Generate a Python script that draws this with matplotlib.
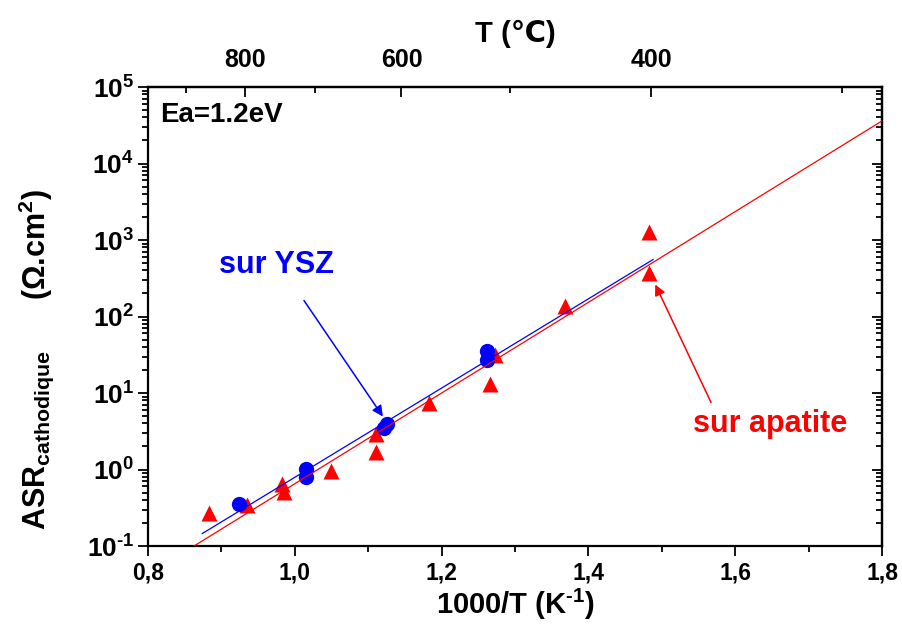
import numpy as np
import matplotlib.pyplot as plt
from matplotlib.ticker import FixedLocator, LogLocator, NullFormatter, FuncFormatter, MultipleLocator

plt.rcParams['font.family'] = ['Liberation Sans', 'DejaVu Sans']
plt.rcParams['font.weight'] = 'bold'
plt.rcParams['mathtext.fontset'] = 'custom'
plt.rcParams['mathtext.rm'] = 'Liberation Sans:bold'
plt.rcParams['mathtext.bf'] = 'Liberation Sans:bold'
plt.rcParams['mathtext.it'] = 'Liberation Sans:bold:italic'

# ASR cathodique sur YSZ (cercles bleus)
ysz_x = [0.924, 1.015, 1.015, 1.122, 1.126, 1.262, 1.262]
ysz_asr = [0.35, 1.03, 0.79, 3.5, 3.9, 35, 27]

# ASR cathodique sur apatite (triangles rouges)
apa_x = [0.883, 0.935, 0.983, 0.985, 1.049, 1.110, 1.111, 1.183, 1.266, 1.273, 1.368, 1.483, 1.483]
apa_asr = [0.274, 0.339, 0.656, 0.515, 0.97, 1.67, 2.87, 7.36, 13.3, 31, 138, 1273, 365]

# droites d'Arrhenius : log10(ASR) = pente * x + origine
ysz_fit = (5.834, -5.936)
ysz_fit_x = [0.874, 1.488]
apa_fit = (5.93, -6.116)
apa_fit_x = [0.8627, 1.8]

temps_major = [800, 600, 400]
temps_minor = [900, 700, 500, 300]
x_ticks = [0.8, 1.0, 1.2, 1.4, 1.6, 1.8]

HY = '\u2010'  # trait d'union court pour les exposants


def fmt_pow(v, p):
    e = int(round(np.log10(v)))
    s = str(e).replace('-', HY)
    return r'$\mathbf{10^{%s}}$' % s


fig = plt.figure(figsize=(9.02, 6.30), dpi=100)
ax = fig.add_axes([0.164, 0.1333, 0.814, 0.7286])

ax.plot(apa_x, apa_asr, '^', color='#ff0000', ms=11.5, mec='none', zorder=2)
ax.plot(ysz_x, ysz_asr, 'o', color='#0000ff', ms=11, mec='none', zorder=3)

for fx, (a, b), c in [(ysz_fit_x, ysz_fit, '#0000ff'), (apa_fit_x, apa_fit, '#ff0000')]:
    fx = np.array(fx)
    ax.plot(fx, 10 ** (a * fx + b), '-', color=c, lw=0.9, zorder=4)

ax.set_yscale('log')
ax.set_xlim(0.8, 1.8)
ax.set_ylim(0.1, 1e5)

ax.xaxis.set_major_locator(FixedLocator(x_ticks))
ax.xaxis.set_minor_locator(MultipleLocator(0.1))
ax.xaxis.set_major_formatter(FuncFormatter(lambda v, p: f"{v:.1f}".replace('.', ',')))
ax.yaxis.set_major_locator(LogLocator(base=10, numticks=10))
ax.yaxis.set_minor_locator(LogLocator(base=10, subs=np.arange(2, 10), numticks=20))
ax.yaxis.set_minor_formatter(NullFormatter())
ax.yaxis.set_major_formatter(FuncFormatter(fmt_pow))

ax.tick_params(which='both', direction='out', top=False, right=False, width=1.3)
ax.tick_params(which='major', length=7, labelsize=16.5, pad=4)
ax.tick_params(axis='y', which='major', labelsize=19, pad=3)
ax.tick_params(which='minor', length=4)
for s in ax.spines.values():
    s.set_linewidth(1.6)

sec_y = ax.secondary_yaxis('right')
sec_y.yaxis.set_major_locator(LogLocator(base=10, numticks=10))
sec_y.yaxis.set_minor_locator(LogLocator(base=10, subs=np.arange(2, 10), numticks=20))
sec_y.yaxis.set_major_formatter(NullFormatter())
sec_y.yaxis.set_minor_formatter(NullFormatter())
sec_y.tick_params(which='both', direction='in', width=1.3)
sec_y.tick_params(which='major', length=7)
sec_y.tick_params(which='minor', length=4)
sec_y.spines['right'].set_linewidth(1.6)

sec_x = ax.secondary_xaxis('top')
sec_x.set_xticks([1000 / (t + 273.15) for t in temps_major], labels=[str(t) for t in temps_major])
sec_x.xaxis.set_minor_locator(FixedLocator([1000 / (t + 273.15) for t in temps_minor]))
sec_x.tick_params(which='both', direction='in', width=1.3)
sec_x.tick_params(which='major', length=7, labelsize=18, pad=11)
sec_x.tick_params(which='minor', length=4)
sec_x.spines['top'].set_linewidth(1.6)
sec_x.set_xlabel('T (℃)', fontsize=21, fontweight='bold', labelpad=4)

ax.set_xlabel(r'1000/T (K$^{\mathbf{' + HY + r'1}}$)', fontsize=21, fontweight='bold', labelpad=2)
ax.set_ylabel(r'ASR$_{\mathbf{cathodique}}$      ($\mathbf{\Omega}$.cm$^{\mathbf{2}}$)',
              fontsize=22, fontweight='bold')
ax.yaxis.set_label_coords(-0.125, 0.407)

ax.text(0.016, 0.924, 'Ea=1.2eV', transform=ax.transAxes, fontsize=20, fontweight='bold')

ax.text(0.897, 365, 'sur YSZ', color='#0000ff', fontsize=22, fontweight='bold')
ax.annotate('', xy=(1.120, 4.93), xytext=(1.0125, 162),
            arrowprops=dict(arrowstyle='-|>', color='#0000ff', lw=1.1,
                            mutation_scale=16, shrinkA=0, shrinkB=0))
ax.text(1.5425, 3.05, 'sur apatite', color='#ff0000', fontsize=22, fontweight='bold')
ax.annotate('', xy=(1.491, 262), xytext=(1.567, 7.5),
            arrowprops=dict(arrowstyle='-|>', color='#ff0000', lw=1.1,
                            mutation_scale=16, shrinkA=0, shrinkB=0))

fig.savefig('out.png', dpi=100)
